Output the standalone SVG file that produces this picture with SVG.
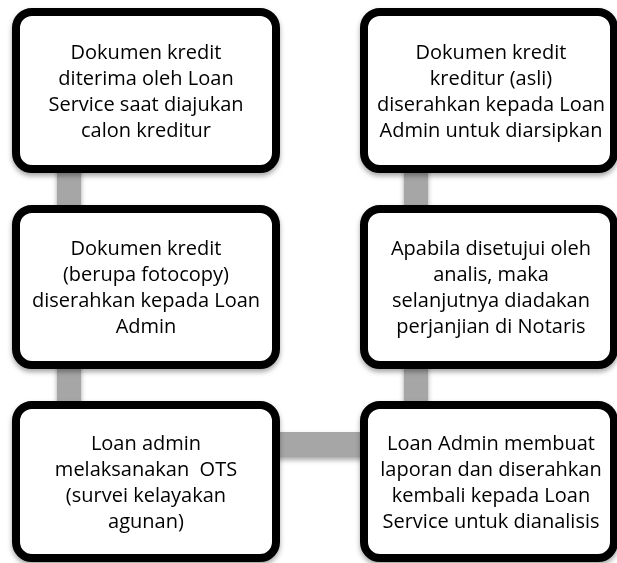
<svg xmlns="http://www.w3.org/2000/svg" width="617" height="563" viewBox="0 0 617 563">
  <defs>
    <filter id="shadow" x="-10%" y="-10%" width="120%" height="125%">
      <feDropShadow dx="0" dy="3" stdDeviation="2.5" flood-color="#000" flood-opacity="0.35"/>
    </filter>
    <style>
      .box { fill: #ffffff; stroke: #000000; stroke-width: 8; }
      .bar { fill: #a6a6a6; }
      .lbl { font-family: "Open Sans", "Liberation Sans", sans-serif; font-size: 20px; fill: #000000; text-anchor: middle; }
    </style>
  </defs>
  <rect width="617" height="563" fill="#ffffff"/>

  <!-- connectors -->
  <g id="connectors" filter="url(#shadow)">
    <rect class="bar" x="57" y="160" width="24" height="60"/>
    <rect class="bar" x="57" y="355" width="24" height="60"/>
    <rect class="bar" x="270" y="432" width="100" height="25"/>
    <rect class="bar" x="404" y="355" width="24" height="60"/>
    <rect class="bar" x="404" y="160" width="24" height="60"/>
  </g>

  <!-- step 1 -->
  <g id="node-1" filter="url(#shadow)">
    <rect class="box" x="16" y="12" width="260" height="157" rx="16"/>
    <text class="lbl" x="146" y="59">Dokumen kredit</text>
    <text class="lbl" x="146" y="85">diterima oleh Loan</text>
    <text class="lbl" x="146" y="111">Service saat diajukan</text>
    <text class="lbl" x="146" y="137">calon kreditur</text>
  </g>

  <!-- step 2 -->
  <g id="node-2" filter="url(#shadow)">
    <rect class="box" x="16" y="209" width="260" height="156" rx="16"/>
    <text class="lbl" x="146" y="255">Dokumen kredit</text>
    <text class="lbl" x="146" y="281">(berupa fotocopy)</text>
    <text class="lbl" x="146" y="307">diserahkan kepada Loan</text>
    <text class="lbl" x="146" y="333">Admin</text>
  </g>

  <!-- step 3 -->
  <g id="node-3" filter="url(#shadow)">
    <rect class="box" x="16" y="405" width="260" height="153" rx="16"/>
    <text class="lbl" x="146" y="450">Loan admin</text>
    <text class="lbl" x="146" y="476" xml:space="preserve">melaksanakan  OTS</text>
    <text class="lbl" x="146" y="502">(survei kelayakan</text>
    <text class="lbl" x="146" y="528">agunan)</text>
  </g>

  <!-- step 4 -->
  <g id="node-4" filter="url(#shadow)">
    <rect class="box" x="364" y="405" width="250" height="153" rx="16"/>
    <text class="lbl" x="491" y="450">Loan Admin membuat</text>
    <text class="lbl" x="491" y="476">laporan dan diserahkan</text>
    <text class="lbl" x="491" y="502">kembali kepada Loan</text>
    <text class="lbl" x="491" y="528">Service untuk dianalisis</text>
  </g>

  <!-- step 5 -->
  <g id="node-5" filter="url(#shadow)">
    <rect class="box" x="364" y="209" width="250" height="156" rx="16"/>
    <text class="lbl" x="491" y="255">Apabila disetujui oleh</text>
    <text class="lbl" x="491" y="281">analis, maka</text>
    <text class="lbl" x="491" y="307">selanjutnya diadakan</text>
    <text class="lbl" x="491" y="333">perjanjian di Notaris</text>
  </g>

  <!-- step 6 -->
  <g id="node-6" filter="url(#shadow)">
    <rect class="box" x="364" y="12" width="250" height="157" rx="16"/>
    <text class="lbl" x="491" y="59">Dokumen kredit</text>
    <text class="lbl" x="491" y="85">kreditur (asli)</text>
    <text class="lbl" x="491" y="111">diserahkan kepada Loan</text>
    <text class="lbl" x="491" y="137">Admin untuk diarsipkan</text>
  </g>
</svg>
